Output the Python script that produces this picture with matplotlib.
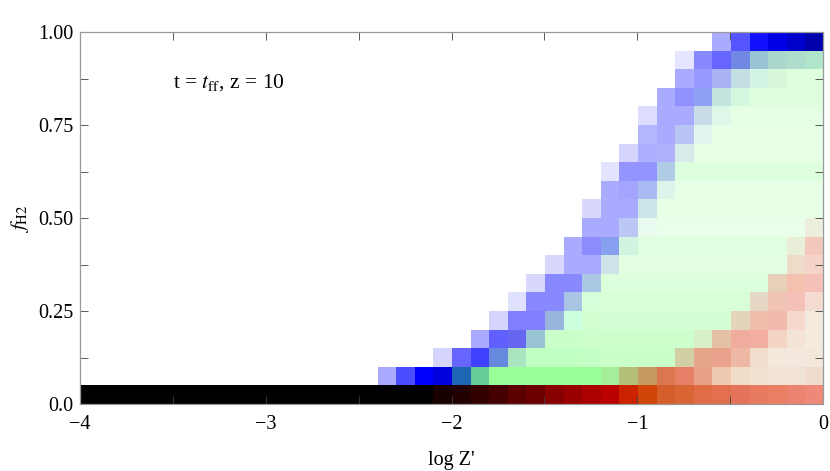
import numpy as np
import matplotlib
matplotlib.use("Agg")
import matplotlib.pyplot as plt
from matplotlib.colors import to_rgb

plt.rcParams["font.family"] = ["Liberation Serif", "DejaVu Serif"]
plt.rcParams["mathtext.fontset"] = "stix"

W = "#FFFFFF"

# cell colours, one list per f_H2 bin (0.05 wide), 40 log Z' bins from -4 to 0
row_00 = ["#000000"] * 19 + ["#180000", "#220000", "#330000", "#440000", "#5C0000", "#6C0000", "#880000", "#990000",
                             "#AA0000", "#BB0000", "#CC2200", "#D04408", "#D55F2C", "#D96535", "#DF6C44", "#E2704F",
                             "#E5735A", "#E87A60", "#EA7F66", "#EC8270", "#EE8878"]
row_01 = [W] * 16 + ["#AAAAFF", "#4C4CFF", "#0000FF", "#0000DD", "#1E66B4", "#66CC99"] + ["#99FF99"] * 6 + [
    "#A5EE99", "#B5BF77", "#C49A60", "#DC764F", "#E58066", "#EBA088", "#EEC8B0", "#F0DCC8", "#F0E0D0", "#F0E2D4",
    "#F0E2D4", "#F0DCCC"]
row_02 = [W] * 19 + ["#D4D4FF", "#6666FF", "#4040FF", "#6688DD", "#AAE5C0"] + ["#C2FFC2"] * 3 + ["#C6FFC6"] + [
    "#CAFFCA"] * 4 + ["#D2CFA4", "#E5A68C", "#EBA28C", "#EEB8A4", "#F2DCCC", "#F4E8DC", "#F4E8DE", "#F2E8DC"]
row_03 = [W] * 21 + ["#AAAAFF", "#6060FF", "#6666F0", "#99C4D4"] + ["#CAFFCA"] * 2 + ["#CCFFCC"] * 6 + [
    "#D8EEC8", "#E4C0A4", "#F0AC9C", "#F2AEA0", "#F4D4C4", "#F4E4D8", "#F4EADE"]
row_04 = [W] * 22 + ["#D4D4FF", "#7F7FFF", "#7F7FFF", "#99B4DD", "#CCFFDD", "#D2FFD2"] + ["#D4FFD4"] * 7 + [
    "#E4D4BC", "#F0BEAC", "#F2BAAE", "#F6D8CC", "#F4EADE"]
row_05 = [W] * 23 + ["#E0E0FF", "#8888FF", "#8888FF", "#AAC4E4", "#D4FFD8"] + ["#D8FFD8"] * 8 + [
    "#E5D8C4", "#F0C4B4", "#F4C0B8", "#F4DCD0"]
row_06 = [W] * 24 + ["#D8D8FF", "#8888FF", "#8888FF", "#AAC8E4"] + ["#DCFFDC"] * 9 + ["#E8D0B8", "#F4C0B0", "#F4C0B8"]
row_07 = [W] * 25 + ["#D8D8FF", "#AAAAFF", "#AAAAFF", "#CCE4E8"] + ["#E2FFE2"] * 9 + ["#EEDCC8", "#F4D4C8"]
row_08 = [W] * 26 + ["#AAAAFF", "#8C8CFF", "#88A0F0", "#D0F4E0"] + ["#E0FFE0"] * 8 + ["#E8EED8", "#F2C8BC"]
row_09 = [W] * 27 + ["#AAAAFF", "#AAAAFF", "#BCC8F4", "#E8FBEE"] + ["#EAFFEA"] * 8 + ["#EEEEDD"]
row_10 = [W] * 27 + ["#D8D8FF", "#AAAAFF", "#AAAAFF", "#CCE5E8"] + ["#E6FFE6"] * 9
row_11 = [W] * 28 + ["#AAAAFF", "#A4A4FF", "#AABBF4", "#DDF4EA"] + ["#E6FFE6"] * 8
row_12 = [W] * 28 + ["#E4E4FF", "#9494FF", "#9494FF", "#B0CCE4"] + ["#DDFFDD"] * 8
row_13 = [W] * 29 + ["#D4D4FF", "#AEAEFF", "#B0B0FF", "#D8EAEA"] + ["#E6FFE6"] * 7
row_14 = [W] * 30 + ["#B4B4FF", "#AAAAFF", "#B8C4F4", "#E0F5EE"] + ["#E6FFE6"] * 6
row_15 = [W] * 30 + ["#DDDDFF", "#AAAAFF", "#AAAAFF", "#C8DDE8", "#DDF8E8"] + ["#E4FFE4"] * 5
row_16 = [W] * 31 + ["#AAAAFF", "#9090FF", "#90A0F4", "#C4E4E0", "#D4F8DF"] + ["#DDFFDD"] * 4
row_17 = [W] * 32 + ["#AAAAFF", "#9999FF", "#AAB4F4", "#C4DFE4", "#D4F4E4", "#D8F8DC", "#DDFFDD", "#DDFFDD"]
row_18 = [W] * 32 + ["#E5E5FF", "#8888FF", "#6666FF", "#7088E4", "#99C4D4", "#AAD8CC", "#AEDDCC", "#B0E5CC"]
row_19 = [W] * 34 + ["#AAAAFF", "#5555FF", "#1111FF", "#0000E5", "#0000CC", "#0000AA"]

rows = [row_00, row_01, row_02, row_03, row_04, row_05, row_06, row_07, row_08, row_09,
        row_10, row_11, row_12, row_13, row_14, row_15, row_16, row_17, row_18, row_19]

x_major = [-4, -3, -2, -1, 0]
x_labels = ["\u22124", "\u22123", "\u22122", "\u22121", "0"]
x_minor = [-3.5, -2.5, -1.5, -0.5]
y_major = [0, 0.25, 0.5, 0.75, 1]
y_labels = ["0.0", "0.25", "0.50", "0.75", "1.00"]
y_minor = [0.125, 0.375, 0.625, 0.875]

img = np.array([[to_rgb(c) for c in r] for r in rows])

fig = plt.figure(figsize=(8.3, 4.71), dpi=100)
ax = fig.add_axes([80 / 830, 1 - 404 / 471, 743 / 830, 372 / 471])
ax.imshow(img, origin="lower", extent=[-4, 0, 0, 1], aspect="auto", interpolation="nearest")

ax.set_xticks(x_major, x_labels)
ax.set_yticks(y_major, y_labels)
ax.set_xticks(x_minor, minor=True)
ax.set_yticks(y_minor, minor=True)
ax.tick_params(which="both", direction="in", top=True, right=True, length=5.8, width=0.6,
               color="#404040", labelsize=14.5, pad=4.5)
ax.tick_params(axis="x", pad=8)
for s in ax.spines.values():
    s.set_color("#999999")
    s.set_linewidth(0.9)

ax.text(-3.5, 0.852, r"t = $t_{\rm ff}$, z = 10", fontsize=15.5, ha="left", va="baseline")
fig.text(451 / 830, 1 - 460 / 471, "log Z'", fontsize=14.5, ha="center", va="center")
fig.text(20 / 830, 1 - 219 / 471, r"$f_{\rm H2}$", fontsize=15, rotation=90, ha="center", va="center")

fig.savefig("out.png", dpi=100)
